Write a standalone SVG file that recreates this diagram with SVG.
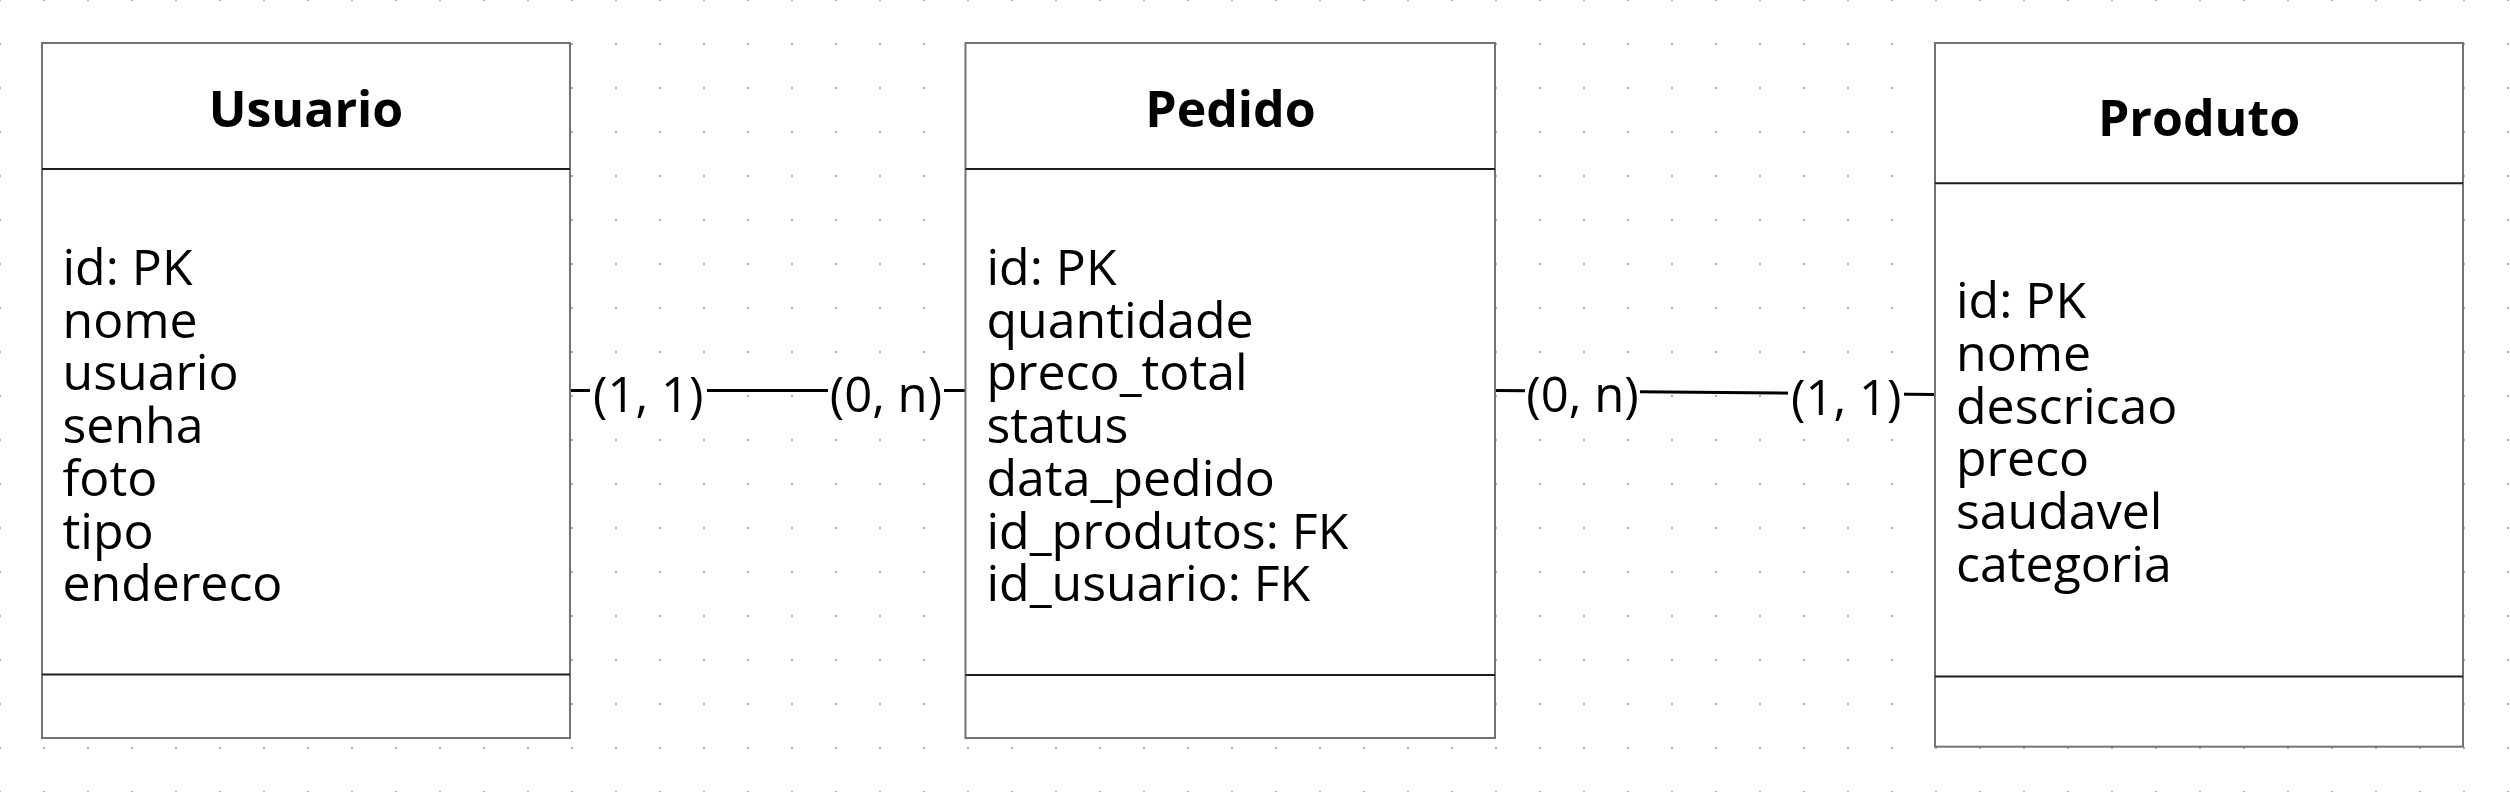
<svg xmlns="http://www.w3.org/2000/svg" width="2510" height="792" viewBox="0 0 2510 792">
  <defs>
    <pattern id="grid" width="44" height="44" patternUnits="userSpaceOnUse" x="-1" y="-1">
      <rect x="0" y="0" width="2" height="2" fill="#aaaaaa"/>
    </pattern>
    <style>
      .box { fill: #ffffff; stroke: #737373; stroke-width: 2; }
      .sep { stroke: #1e1e1e; stroke-width: 2; }
      .title { font-family: "Open Sans", "Noto Sans", sans-serif; font-size: 50px; font-weight: bold; fill: #000; text-anchor: middle; }
      .attr { font-family: "Open Sans", "Noto Sans", sans-serif; font-size: 50px; fill: #000; }
      .edge { stroke: #000; stroke-width: 3; fill: none; }
      .lblbg { fill: #ffffff; }
      .lbl { font-family: "Open Sans", "Noto Sans", sans-serif; font-size: 49px; fill: #000; text-anchor: middle; }
    </style>
  </defs>
  <rect x="0" y="0" width="2510" height="792" fill="#ffffff"/>
  <rect x="0" y="0" width="2510" height="792" fill="url(#grid)"/>

  <g id="connectors">
    <g id="edge-usuario-pedido">
      <line class="edge" x1="570" y1="390.5" x2="965.5" y2="390.5"/>
      <rect class="lblbg" x="590" y="372" width="117" height="52"/>
      <text class="lbl" x="648.3" y="411.7">(1, 1)</text>
      <rect class="lblbg" x="828" y="372" width="116" height="52"/>
      <text class="lbl" x="885.9" y="411.7">(0, n)</text>
    </g>
    <g id="edge-pedido-produto">
      <line class="edge" x1="1495" y1="390.5" x2="1935" y2="394.5"/>
      <rect class="lblbg" x="1525" y="373" width="115" height="52"/>
      <text class="lbl" x="1582.5" y="411.7">(0, n)</text>
      <rect class="lblbg" x="1788" y="376" width="116" height="52"/>
      <text class="lbl" x="1846.2" y="415">(1, 1)</text>
    </g>
  </g>

  <g id="usuario">
    <rect class="box" x="42" y="43" width="528" height="695"/>
    <line class="sep" x1="42" y1="169" x2="570" y2="169"/>
    <line class="sep" x1="42" y1="674.5" x2="570" y2="674.5"/>
    <text class="title" x="306" y="127.3">Usuario</text>
    <text class="attr">
      <tspan x="62.5" y="285">id: PK</tspan>
      <tspan x="62.5" y="337.7">nome</tspan>
      <tspan x="62.5" y="390.4">usuario</tspan>
      <tspan x="62.5" y="443.1">senha</tspan>
      <tspan x="62.5" y="495.8">foto</tspan>
      <tspan x="62.5" y="548.5">tipo</tspan>
      <tspan x="62.5" y="601.2">endereco</tspan>
    </text>
  </g>

  <g id="pedido">
    <rect class="box" x="965.5" y="43" width="529.5" height="695"/>
    <line class="sep" x1="965.5" y1="169" x2="1495" y2="169"/>
    <line class="sep" x1="965.5" y1="675" x2="1495" y2="675"/>
    <text class="title" x="1230.5" y="127.3">Pedido</text>
    <text class="attr">
      <tspan x="986.5" y="285">id: PK</tspan>
      <tspan x="986.5" y="337.7">quantidade</tspan>
      <tspan x="986.5" y="390.4">preco_total</tspan>
      <tspan x="986.5" y="443.1">status</tspan>
      <tspan x="986.5" y="495.8">data_pedido</tspan>
      <tspan x="986.5" y="548.5">id_produtos: FK</tspan>
      <tspan x="986.5" y="601.2">id_usuario: FK</tspan>
    </text>
  </g>

  <g id="produto">
    <rect class="box" x="1935" y="43" width="528" height="703.7"/>
    <line class="sep" x1="1935" y1="183.3" x2="2463" y2="183.3"/>
    <line class="sep" x1="1935" y1="676.5" x2="2463" y2="676.5"/>
    <text class="title" x="2199" y="136">Produto</text>
    <text class="attr">
      <tspan x="1956" y="318.3">id: PK</tspan>
      <tspan x="1956" y="371">nome</tspan>
      <tspan x="1956" y="423.7">descricao</tspan>
      <tspan x="1956" y="476.4">preco</tspan>
      <tspan x="1956" y="529.1">saudavel</tspan>
      <tspan x="1956" y="581.8">categoria</tspan>
    </text>
  </g>
</svg>
